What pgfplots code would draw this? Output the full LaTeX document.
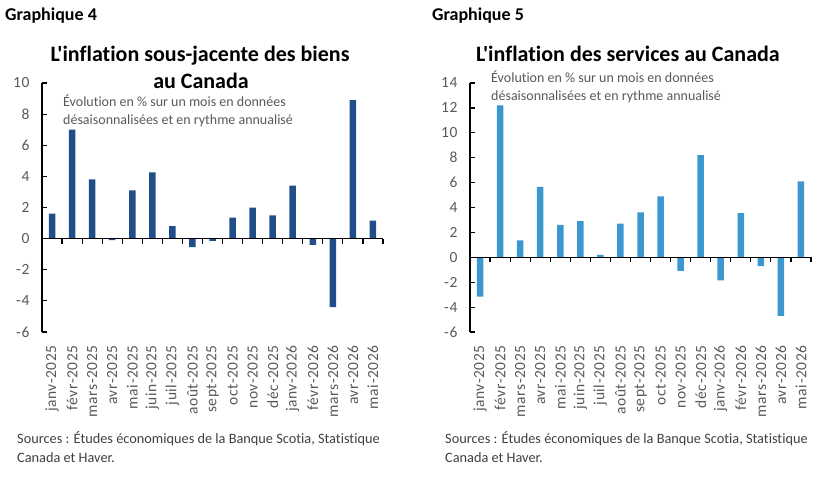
\documentclass[border=0pt]{standalone}
\usepackage{pgfplots}
\pgfplotsset{compat=1.18}
\usepackage{fontspec}
\setmainfont{Carlito}[Ligatures={TeXOff,NoCommon}]
\newfontfamily\tickfont{Carlito}[Ligatures={TeXOff,NoCommon}, LetterSpace=4]
\definecolor{navy}{HTML}{1F4E8A}
\definecolor{sky}{HTML}{3C97D0}
\definecolor{tgray}{HTML}{595959}
\definecolor{sgray}{HTML}{404040}

\pgfplotsset{
  base/.style={
    scale only axis, width=341pt, height=249pt, anchor=south west,
    xmin=-0.5, xmax=16.5, ymin=-6,
    axis y line*=left, axis x line*=bottom,
    x axis line style={draw=none},
    y axis line style={black, line width=1.2pt},
    xtick={0,...,16},
    xticklabels={janv-2025,févr-2025,mars-2025,avr-2025,mai-2025,juin-2025,juil-2025,août-2025,sept-2025,oct-2025,nov-2025,déc-2025,janv-2026,févr-2026,mars-2026,avr-2026,mai-2026},
    xticklabel style={rotate=90, anchor=east, font=\tickfont\fontsize{15.5}{15.5}\selectfont, text=tgray, inner sep=0pt},
    xticklabel shift=13pt,
    major x tick style={draw=none},
    ytick distance=2,
    yticklabel style={font=\tickfont\fontsize{15.5}{15.5}\selectfont, text=tgray, xshift=-9pt},
    tick align=inside,
    major tick length=5pt,
    every tick/.style={black, line width=1.2pt},
    /pgf/number format/assume math mode=true,
    clip=false,
  },
  zeroline/.style={
    scale only axis, width=341pt, height=249pt, anchor=south west,
    xmin=-0.5, xmax=16.5, ymin=-6,
    axis x line=middle, axis y line=none,
    x axis line style={-, black, line width=1.2pt},
    xtick={-0.5,0.5,1.5,2.5,3.5,4.5,5.5,6.5,7.5,8.5,9.5,10.5,11.5,12.5,13.5,14.5,15.5,16.5},
    xticklabels={}, ytick=\empty,
    tick align=outside, major tick length=5pt,
    every tick/.style={black, line width=1.2pt},
  },
}

\begin{document}
\begin{tikzpicture}[x=1pt,y=1pt]
\path[use as bounding box] (0pt,0pt) rectangle (828pt,-482pt);

% ---------- Graphique 4 ----------
\node[anchor=base west, inner sep=0pt, font=\fontsize{18}{18}\selectfont\bfseries] at (5pt,-20pt) {Graphique 4};
\node[anchor=base, inner sep=0pt, font=\fontsize{22}{22}\selectfont\bfseries] at (200pt,-61pt) {L'inflation sous-jacente des biens};
\node[anchor=base, inner sep=0pt, font=\fontsize{22}{22}\selectfont\bfseries] at (201pt,-88pt) {au Canada};

\begin{axis}[base, at={(42pt,-332pt)}, ymax=10]
\addplot[ybar, bar width=6.5pt, fill=navy, draw=none] coordinates {
(0,1.6) (1,7.0) (2,3.8) (3,-0.1) (4,3.1) (5,4.25) (6,0.8) (7,-0.55) (8,-0.15)
(9,1.35) (10,2.0) (11,1.5) (12,3.4) (13,-0.4) (14,-4.4) (15,8.9) (16,1.15)};
\end{axis}
\begin{axis}[zeroline, at={(42pt,-332pt)}, ymax=10]
\addplot[draw=none] coordinates {(0,0)};
\end{axis}

\node[anchor=base west, inner sep=0pt, font=\fontsize{14}{14}\selectfont, text=tgray] at (63pt,-106pt) {Évolution en \% sur un mois en données};
\node[anchor=base west, inner sep=0pt, font=\fontsize{14}{14}\selectfont, text=tgray] at (63pt,-124pt) {désaisonnalisées et en rythme annualisé};

\node[anchor=base west, inner sep=0pt, font=\fontsize{14.3}{14.3}\selectfont, text=sgray] at (17pt,-443pt) {Sources : Études économiques de la Banque Scotia, Statistique};
\node[anchor=base west, inner sep=0pt, font=\fontsize{14.3}{14.3}\selectfont, text=sgray] at (17pt,-462pt) {Canada et Haver.};

% ---------- Graphique 5 ----------
\node[anchor=base west, inner sep=0pt, font=\fontsize{18}{18}\selectfont\bfseries] at (432pt,-20pt) {Graphique 5};
\node[anchor=base, inner sep=0pt, font=\fontsize{22}{22}\selectfont\bfseries] at (628pt,-61pt) {L'inflation des services au Canada};

\begin{axis}[base, at={(470pt,-332pt)}, ymax=14]
\addplot[ybar, bar width=6.5pt, fill=sky, draw=none] coordinates {
(0,-3.15) (1,12.2) (2,1.35) (3,5.65) (4,2.6) (5,2.9) (6,0.2) (7,2.7) (8,3.6)
(9,4.9) (10,-1.1) (11,8.2) (12,-1.85) (13,3.55) (14,-0.7) (15,-4.7) (16,6.1)};
\end{axis}
\begin{axis}[zeroline, at={(470pt,-332pt)}, ymax=14]
\addplot[draw=none] coordinates {(0,0)};
\end{axis}

\node[anchor=base west, inner sep=0pt, font=\fontsize{14}{14}\selectfont, text=tgray] at (491pt,-82pt) {Évolution en \% sur un mois en données};
\node[anchor=base west, inner sep=0pt, font=\fontsize{14}{14}\selectfont, text=tgray] at (491pt,-100pt) {désaisonnalisées et en rythme annualisé};

\node[anchor=base west, inner sep=0pt, font=\fontsize{14.3}{14.3}\selectfont, text=sgray] at (445pt,-443pt) {Sources : Études économiques de la Banque Scotia, Statistique};
\node[anchor=base west, inner sep=0pt, font=\fontsize{14.3}{14.3}\selectfont, text=sgray] at (445pt,-462pt) {Canada et Haver.};
\end{tikzpicture}
\end{document}
